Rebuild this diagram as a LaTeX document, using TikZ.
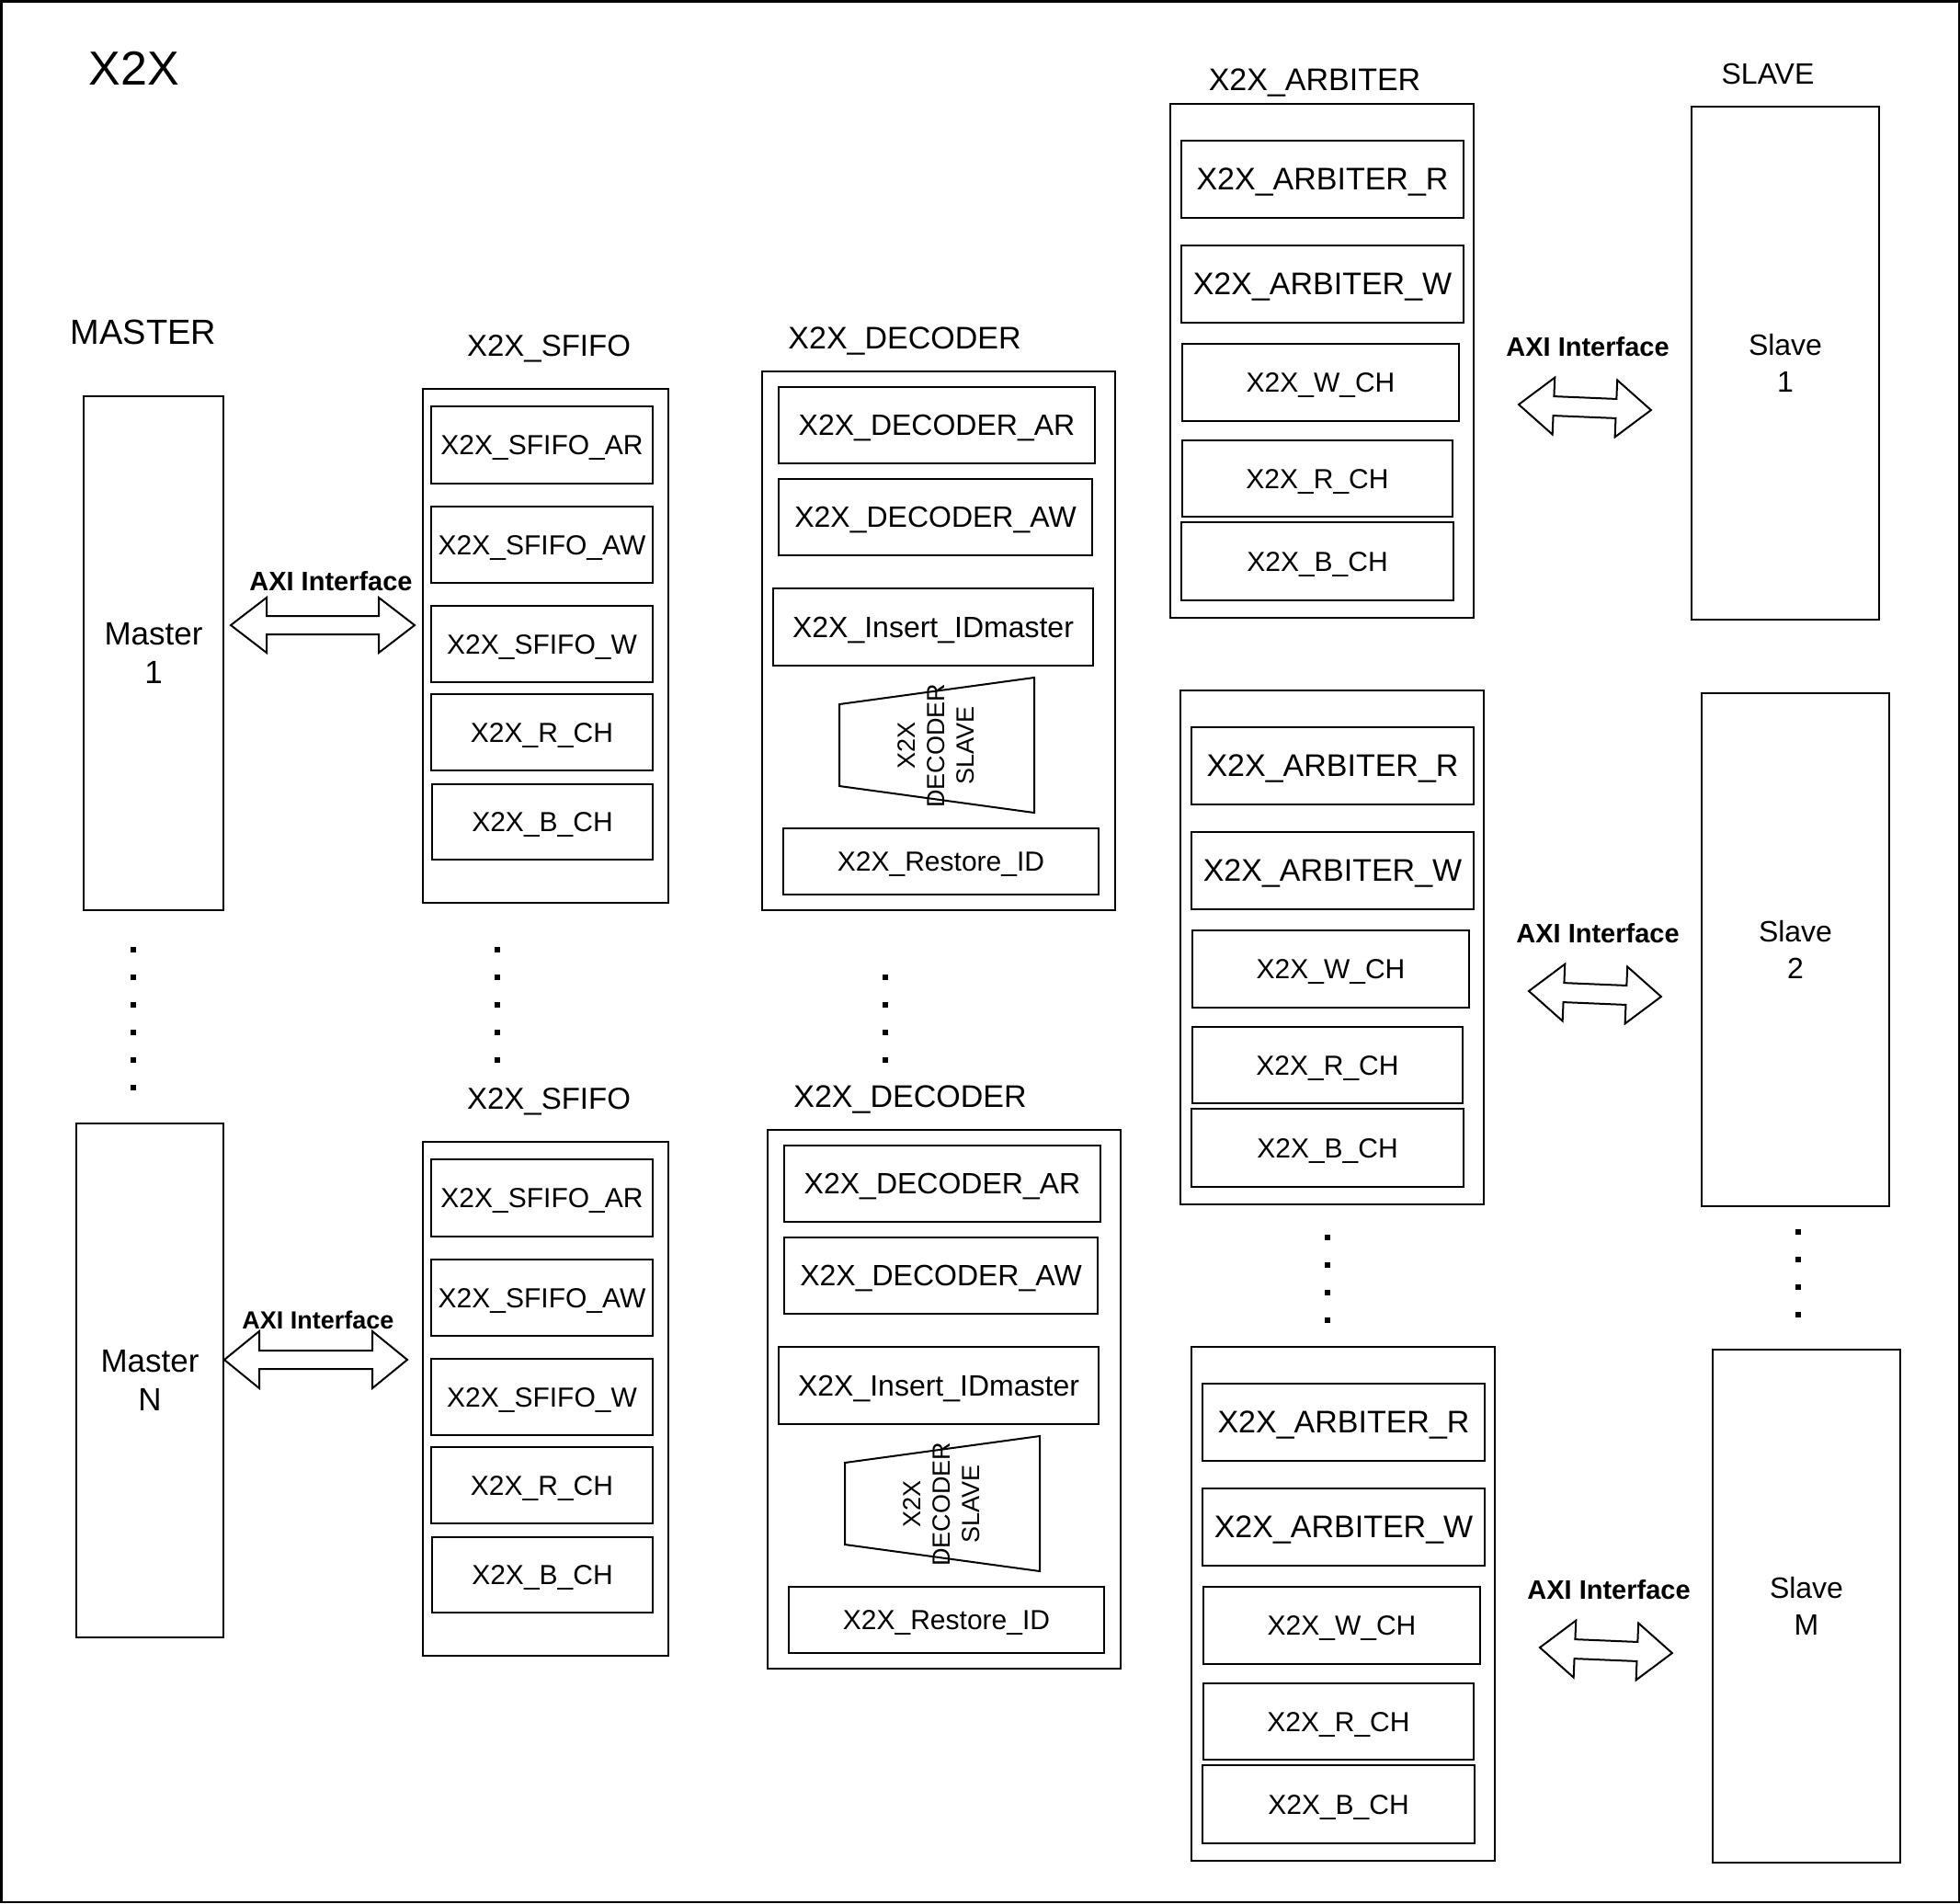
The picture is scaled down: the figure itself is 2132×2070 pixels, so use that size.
\documentclass[tikz,border=0pt]{standalone}
\usepackage{fontspec}
\setmainfont{Liberation Sans}
\usetikzlibrary{calc}
\newcommand\fsz[1]{\fontsize{#1}{#1}\selectfont}
\tikzset{
 box/.style={draw, line width=2.4pt, inner sep=0pt, align=center},
 lbl/.style={anchor=base, inner sep=0pt},
 axilbl/.style={anchor=base, inner sep=0pt, font=\bfseries\fsz{29}},
 blockarr/.style={draw, line width=2pt, fill=white, line join=miter},
}
\newcommand\mybox[7]{\node[box, minimum width={(#4-#2)*1pt}, minimum height={(#5-#3)*1pt}, text height={0.7*#6*1pt}, text depth=0pt, font=\fsz{#6}] (#1) at ({(#2+#4)/2},{(#3+#5)/2}) {#7};}
% name, x, y, len, angle, headlen, halfhead, halfshaft
\newcommand\axiarrow[8]{%
 \begin{scope}[shift={(#2,#3)}, rotate=#5]
 \coordinate (#1L) at (0,0);
 \coordinate (#1R) at (#4,0);
 \draw[blockarr] (#1L) -- (#6,-#7) -- (#6,-#8) -- ({#4-#6},-#8) -- ({#4-#6},-#7) -- (#1R) -- ({#4-#6},#7) -- ({#4-#6},#8) -- (#6,#8) -- (#6,#7) -- cycle;
 \end{scope}}
\newcommand\dotcol[4]{\foreach \k in {1,...,#3} {\fill ({#1-3},{#2+(\k-1)*#4-3}) rectangle ({#1+3},{#2+(\k-1)*#4+3});}}
\newcommand\sfifogrp[2]{%
 \begin{scope}[shift={(0,#2)}]
 \node[lbl, font=\fsz{33}] (#1lbl) at (597,387) {X2X\_SFIFO};
 \mybox{#1}{460}{423}{727}{982}{30}{}
 \mybox{#1ar}{469}{442}{710}{526}{30}{X2X\_SFIFO\_AR}
 \mybox{#1aw}{469}{551}{710}{634}{30}{X2X\_SFIFO\_AW}
 \mybox{#1w}{469}{659}{710}{742}{30}{X2X\_SFIFO\_W}
 \mybox{#1r}{469}{755}{710}{838}{30}{X2X\_R\_CH}
 \mybox{#1b}{470}{853}{710}{935}{30}{X2X\_B\_CH}
 \end{scope}}
\newcommand\decgrp[3]{%
 \begin{scope}[shift={(#2,#3)}]
 \node[lbl, font=\fsz{34}] (#1lbl) at (984,379) {X2X\_DECODER};
 \mybox{#1}{829}{404}{1213}{990}{30}{}
 \mybox{#1ar}{847}{421}{1191}{504}{32}{X2X\_DECODER\_AR}
 \mybox{#1aw}{847}{521}{1188}{604}{32}{X2X\_DECODER\_AW}
 \mybox{#1ins}{841}{640}{1189}{724}{32}{X2X\_Insert\_IDmaster}
 \coordinate (#1t1) at (913,766);
 \coordinate (#1t2) at (1125,737);
 \coordinate (#1t3) at (1125,884);
 \coordinate (#1t4) at (913,855);
 \draw[line width=2pt] (#1t1) -- (#1t2) -- (#1t3) -- (#1t4) -- cycle;
 \node[rotate=90, align=center, inner sep=0pt, font=\fontsize{27}{32}\selectfont] (#1slv) at (1018,811) {X2X\\DECODER\\SLAVE};
 \mybox{#1rid}{852}{901}{1195}{973}{30}{X2X\_Restore\_ID}
 \end{scope}}
\newcommand\arbgrp[4]{%
 \begin{scope}[shift={(#2,#3)}]
 \mybox{#1}{1273}{113}{1603}{672}{30}{}
 \mybox{#1ar}{1285}{153}{1592}{237}{34}{X2X\_ARBITER\_R}
 \mybox{#1aw}{1285}{267}{1592}{351}{34}{X2X\_ARBITER\_W}
 \mybox{#1w}{1286}{374}{1587}{458}{30}{X2X\_W\_CH}
 \mybox{#1r}{1286}{479}{1580}{562}{30}{X2X\_R\_CH}
 \mybox{#1b}{1285}{568}{1581}{653}{30}{X2X\_B\_CH}
 \node[axilbl] (#1axl) at (1727,387) {AXI Interface};
 \axiarrow{#1ax}{1652}{440}{144}{-2.4}{38}{31}{10.5}
 \node[box, minimum width=204pt, minimum height=558pt, font=\fontsize{32}{40}\selectfont] (#1s) at (1942,395) {Slave\\#4};
 \end{scope}}
\begin{document}
\begin{tikzpicture}[x=1pt,y=-1pt]
\useasboundingbox (0,0) rectangle (2132,2070);
\draw[line width=2.5pt] (1.25,1.25) rectangle (2130.75,2068.75);
% titles
\node[lbl, font=\fsz{52}] (title) at (146,92) {X2X};
\node[lbl, font=\fsz{38}] (mlbl) at (156,374) {MASTER};
\node[lbl, font=\fsz{34}] (arblbl) at (1430,98) {X2X\_ARBITER};
\node[lbl, font=\fsz{32}] (slvlbl) at (1923,91) {SLAVE};
% masters
\node[box, minimum width=152pt, minimum height=559pt, font=\fontsize{35}{42}\selectfont] (m1) at (167,710.5) {Master\\1};
\node[box, minimum width=160pt, minimum height=559pt, font=\fontsize{35}{42}\selectfont] (mN) at (163,1501.5) {Master\\N};
% left AXI arrows
\node[axilbl] (lax1lbl) at (360,642) {AXI Interface};
\axiarrow{lax1}{251}{680}{200}{0}{39}{30}{10}
\node[axilbl, font=\bfseries\fsz{27}] (lax2lbl) at (346,1445) {AXI Interface};
\axiarrow{lax2}{244}{1479}{199}{0}{38}{31}{10}
% groups
\sfifogrp{sfa}{0}
\sfifogrp{sfn}{819}
\decgrp{dca}{0}{0}
\decgrp{dcn}{6}{825}
\arbgrp{ar1}{0}{0}{1}
\arbgrp{ar2}{11}{638}{2}
\arbgrp{arm}{23}{1352}{M}
% dots
\dotcol{145}{1033}{6}{30}
\dotcol{541}{1033}{5}{30}
\dotcol{963}{1063}{4}{30}
\dotcol{1444}{1346}{4}{30}
\dotcol{1956}{1340}{4}{30}
\end{tikzpicture}
\end{document}
